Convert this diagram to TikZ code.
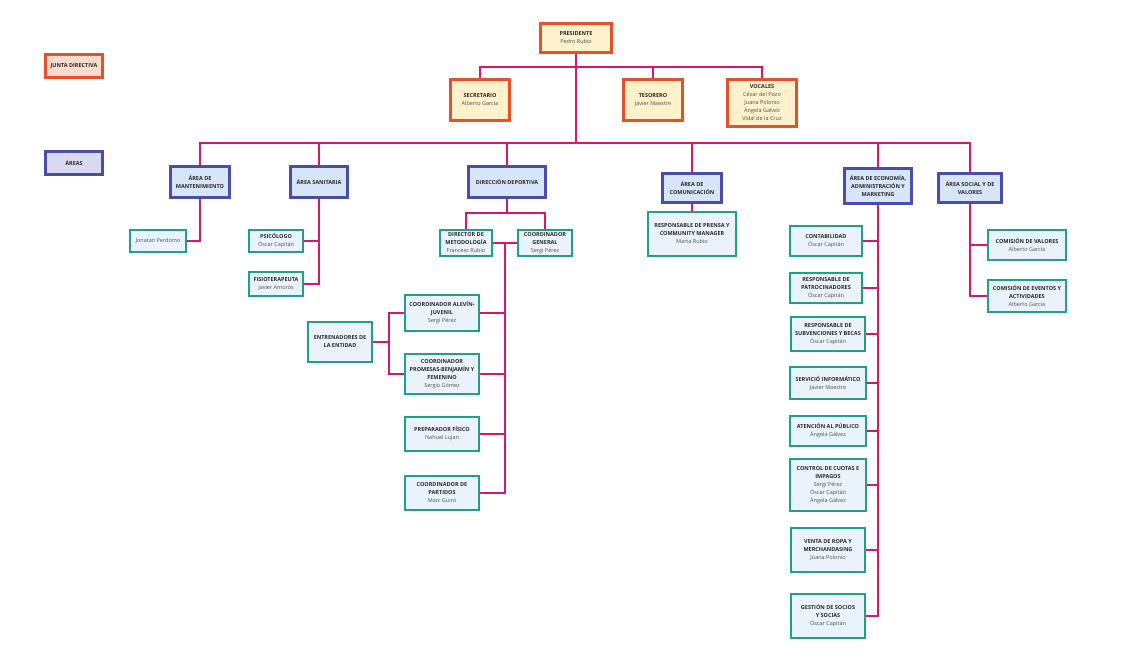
\documentclass[tikz,border=0pt]{standalone}
\usepackage{fontspec}
\setmainfont{Open Sans}
\usetikzlibrary{backgrounds}
\definecolor{mag}{RGB}{214,24,108}
\definecolor{jdred}{RGB}{229,82,42}
\definecolor{jdfill}{RGB}{255,241,204}
\definecolor{jdleg}{RGB}{252,218,206}
\definecolor{arblue}{RGB}{72,78,170}
\definecolor{arfill}{RGB}{214,230,248}
\definecolor{arleg}{RGB}{216,218,240}
\definecolor{tealb}{RGB}{32,160,132}
\definecolor{pefill}{RGB}{234,243,252}
\definecolor{tx}{RGB}{40,40,40}
\definecolor{nm}{RGB}{80,80,80}
\newcommand\ttl[1]{\textbf{#1}}
\newcommand\nmx[1]{{\color{nm}#1}}
\tikzset{
  sz/.style 2 args={minimum width=#1, minimum height=#2},
  boxbase/.style={rectangle, align=center, inner sep=1pt, text=tx,
    font=\fontsize{5.5}{8}\selectfont},
  jbox/.style={boxbase, draw=jdred, fill=jdfill, line width=3pt},
  abox/.style={boxbase, draw=arblue, fill=arfill, line width=3pt},
  pbox/.style={boxbase, draw=tealb, fill=pefill, line width=2pt},
  conn/.style={draw=mag, line width=2pt},
}
\begin{document}
\begin{tikzpicture}[x=1pt,y=-1pt]
\useasboundingbox (0,0) rectangle (1122,661);
% legend
\node[jbox, fill=jdleg, sz={57}{23}] (ljd) at (74,66) {\ttl{JUNTA DIRECTIVA}};
\node[abox, fill=arleg, sz={57}{23}] (lar) at (74,163) {\ttl{ÁREAS}};
% junta
\node[jbox, sz={71}{29}] (pres) at (576,38) {\ttl{PRESIDENTE}\\\nmx{Pedro Rubio}};
\node[jbox, sz={59}{41}] (sec) at (480,100) {\ttl{SECRETARIO}\\\nmx{Alberto García}};
\node[jbox, sz={59}{41}] (tes) at (653,100) {\ttl{TESORERO}\\\nmx{Javier Maestre}};
\node[jbox, sz={69}{47}] (voc) at (762,103) {\ttl{VOCALES}\\\nmx{César del Pozo}\\\nmx{Juana Polonio}\\\nmx{Ángela Galvez}\\\nmx{Vidal de la Cruz}};
% areas
\node[abox, sz={59}{31}] (mant) at (200,182) {\ttl{ÁREA DE}\\\ttl{MANTENIMIENTO}};
\node[abox, sz={57}{31}] (san) at (319,182) {\ttl{ÁREA SANITARIA}};
\node[abox, sz={77}{31}] (dd) at (507,182) {\ttl{DIRECCIÓN DEPORTIVA}};
\node[abox, sz={59}{29}] (com) at (692,188) {\ttl{ÁREA DE}\\\ttl{COMUNICACIÓN}};
\node[abox, sz={67}{35}] (eco) at (878,186) {\ttl{ÁREA DE ECONOMÍA,}\\\ttl{ADMINISTRACIÓN Y}\\\ttl{MARKETING}};
\node[abox, sz={63}{29}] (soc) at (970,188) {\ttl{ÁREA SOCIAL Y DE}\\\ttl{VALORES}};
% mantenimiento / sanitaria
\node[pbox, sz={56}{22}] (jon) at (158,241) {\nmx{Jonatan Perdomo}};
\node[pbox, sz={54}{22}] (psi) at (276,241) {\ttl{PSICÓLOGO}\\\nmx{Óscar Capitán}};
\node[pbox, sz={54}{24}] (fis) at (276,284) {\ttl{FISIOTERAPEUTA}\\\nmx{Javier Amorós}};
% direccion deportiva
\node[pbox, sz={52}{26}] (dm) at (466,243) {\ttl{DIRECTOR DE}\\\ttl{METODOLOGÍA}\\\nmx{Francesc Rubio}};
\node[pbox, sz={54}{26}] (cg) at (545,243) {\ttl{COORDINADOR}\\\ttl{GENERAL}\\\nmx{Sergi Pérez}};
\node[pbox, sz={74}{36}] (ale) at (442,313) {\ttl{COORDINADOR ALEVÍN-}\\\ttl{JUVENIL}\\\nmx{Sergi Pérez}};
\node[pbox, sz={74}{40}] (pro) at (442,374) {\ttl{COORDINADOR}\\\ttl{PROMESAS-BENJAMÍN Y}\\\ttl{FEMENINO}\\\nmx{Sergio Gómez}};
\node[pbox, sz={74}{34}] (pf) at (442,434) {\ttl{PREPARADOR FÍSICO}\\\nmx{Nahuel Lujan}};
\node[pbox, sz={74}{34}] (par) at (442,493) {\ttl{COORDINADOR DE}\\\ttl{PARTIDOS}\\\nmx{Marc Guiró}};
\node[pbox, sz={64}{40}] (ent) at (340,342) {\ttl{ENTRENADORES DE}\\\ttl{LA ENTIDAD}};
% comunicacion
\node[pbox, sz={88}{44}] (pre) at (692,234) {\ttl{RESPONSABLE DE PRENSA Y}\\\ttl{COMMUNITY MANAGER}\\\nmx{Marta Rubio}};
% economia
\node[pbox, sz={72}{30}] (con) at (826,241) {\ttl{CONTABILIDAD}\\\nmx{Óscar Capitán}};
\node[pbox, sz={72}{30}] (pat) at (826,288) {\ttl{RESPONSABLE DE}\\\ttl{PATROCINADORES}\\\nmx{Óscar Capitán}};
\node[pbox, sz={74}{34}] (sub) at (828,334) {\ttl{RESPONSABLE DE}\\\ttl{SUBVENCIONES Y BECAS}\\\nmx{Óscar Capitán}};
\node[pbox, sz={76}{32}] (ser) at (828,383) {\ttl{SERVICIÓ INFORMÁTICO}\\\nmx{Javier Maestre}};
\node[pbox, sz={76}{30}] (ate) at (828,431) {\ttl{ATENCIÓN AL PÚBLICO}\\\nmx{Ángela Gálvez}};
\node[pbox, sz={76}{52}] (ctl) at (828,485) {\ttl{CONTROL DE CUOTAS E}\\\ttl{IMPAGOS}\\\nmx{Sergi Pérez}\\\nmx{Óscar Capitán}\\\nmx{Ángela Gálvez}};
\node[pbox, sz={74}{44}] (ven) at (828,550) {\ttl{VENTA DE ROPA Y}\\\ttl{MERCHANDASING}\\\nmx{Juana Polonio}};
\node[pbox, sz={74}{44}] (ges) at (828,616) {\ttl{GESTIÓN DE SOCIOS}\\\ttl{Y SOCIAS}\\\nmx{Óscar Capitán}};
% social
\node[pbox, sz={78}{30}] (cva) at (1027,245) {\ttl{COMISIÓN DE VALORES}\\\nmx{Alberto García}};
\node[pbox, sz={78}{32}] (cev) at (1027,296) {\ttl{COMISIÓN DE EVENTOS Y}\\\ttl{ACTIVIDADES}\\\nmx{Alberto García}};
% connectors
\begin{scope}[on background layer]
\fill[white] (0,0) rectangle (1122,661);
\coordinate (j1) at (576,67);
\coordinate (j2) at (576,143);
\draw[conn] (sec.north) |- (j1) -| (voc.north);
\draw[conn] (tes.north) -- (tes.north |- j1);
\draw[conn] (pres.south) -- (j2);
\draw[conn] (mant.north) |- (j2) -| (soc.north);
\draw[conn] (san.north) -- (san.north |- j2);
\draw[conn] (dd.north) -- (dd.north |- j2);
\draw[conn] (com.north) -- (com.north |- j2);
\draw[conn] (eco.north) -- (eco.north |- j2);
\draw[conn] (mant.south) |- (jon.east);
\draw[conn] (san.south) |- (fis.east);
\draw[conn] (psi.east) -- (psi.east -| san.south);
\coordinate (j3) at (507,213);
\draw[conn] (dd.south) -- (j3);
\draw[conn] (dm.north) |- (j3) -| (cg.north);
\draw[conn] (dm.east) -- (cg.west);
\coordinate (j4) at (505,243);
\draw[conn] (j4) |- (par.east);
\draw[conn] (ale.east) -- (ale.east -| j4);
\draw[conn] (pro.east) -- (pro.east -| j4);
\draw[conn] (pf.east) -- (pf.east -| j4);
\coordinate (j5) at (389,342);
\draw[conn] (ent.east) -- (j5);
\draw[conn] (ale.west) -| (j5) |- (pro.west);
\draw[conn] (com.south) -- (pre.north);
\draw[conn] (eco.south) |- (ges.east);
\foreach \n in {con,pat,sub,ser,ate,ctl,ven}
  \draw[conn] (\n.east) -- (\n.east -| eco.south);
\draw[conn] (soc.south) |- (cev.east);
\draw[conn] (cva.east) -- (cva.east -| soc.south);
\end{scope}
\end{tikzpicture}
\end{document}
